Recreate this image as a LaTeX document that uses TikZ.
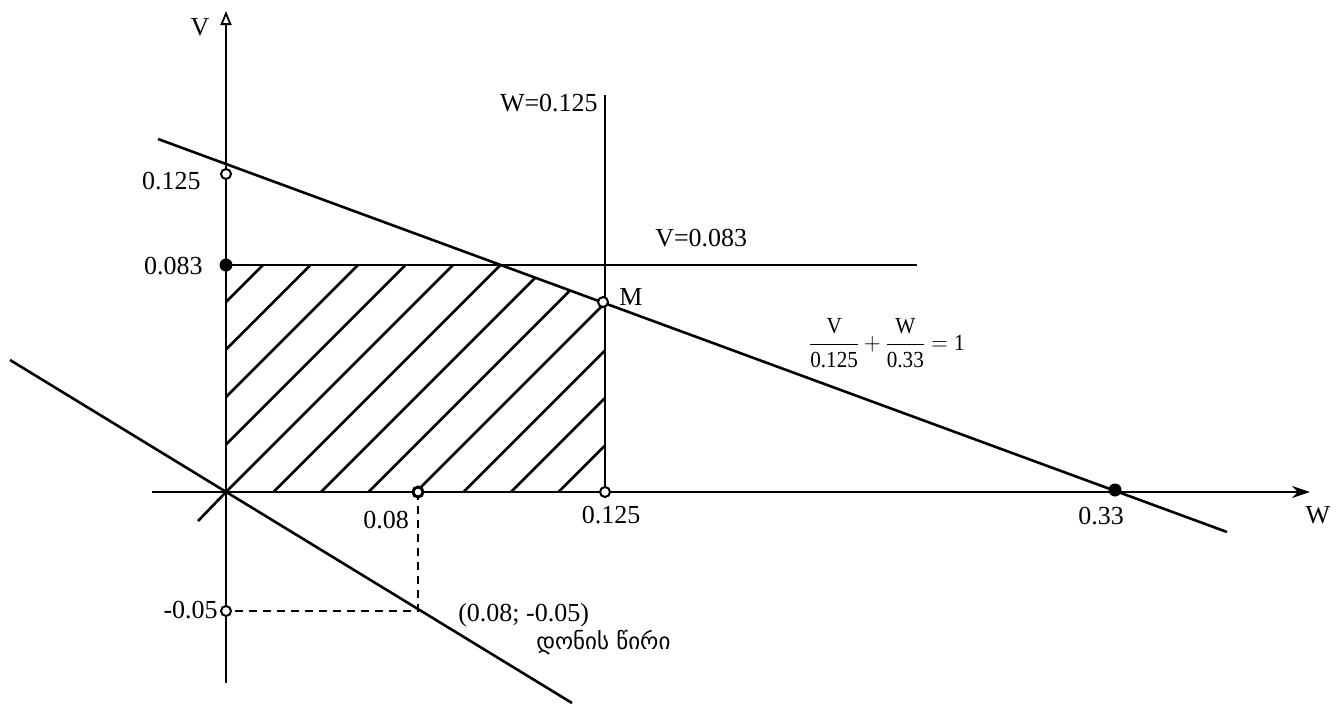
\documentclass[tikz,border=0pt]{standalone}
\usepackage{fontspec}
\setmainfont{Liberation Serif}
\newfontfamily\geofont{DejaVu Sans}
\usetikzlibrary{arrows.meta}
\begin{document}
\begin{tikzpicture}[x=1pt,y=-1pt, line width=2.6pt,
  lbl/.style={font=\fontsize{26}{29}\selectfont, inner sep=0pt},
  opendot/.style={circle,draw,fill=white,line width=2pt,minimum size=10pt,inner sep=0pt},
  filldot/.style={circle,fill=black,minimum size=13pt,inner sep=0pt},
  hatchline/.style={line width=2.5pt},
  dashline/.style={dash pattern=on 8pt off 6pt, line width=2.2pt}]
\useasboundingbox (0,0) rectangle (1341,705);
% key points
\coordinate (O) at (226,492);
\coordinate (vbot) at (226,683);
\coordinate (vtop) at (226,11);
\coordinate (wleft) at (152,492);
\coordinate (wright) at (1310,492);
\coordinate (bl1) at (158,139);
\coordinate (bl2) at (1227,532);
\coordinate (lv1) at (10,360);
\coordinate (lv2) at (572,703);
\coordinate (tA) at (226,265);
\coordinate (tB) at (501,265);
\coordinate (tM) at (605,303);
\coordinate (tC) at (605,492);
\coordinate (vline1) at (917,265);
\coordinate (wtop) at (605,95);
\coordinate (p08) at (418,492);
\coordinate (pq) at (418,611);
\coordinate (p05) at (226,611);
\coordinate (slash) at (198,521);
% hatching
\begin{scope}
\clip (tA) -- (tB) -- (tM) -- (tC) -- (O) -- cycle;
\foreach \k in {-6,...,8} \draw[hatchline] ({226+47.5*\k},492) -- ++(320,-320);
\end{scope}
% axes
\draw[line width=2.2pt, -{Triangle[open,length=14pt,width=11pt,line width=1.8pt]}] (vbot) -- (vtop);
\draw[line width=2.2pt, -{Stealth[length=18pt,width=12pt]}] (wleft) -- (wright);
% lines
\draw (bl1) -- (bl2);
\draw (lv1) -- (lv2);
\draw (tA) -- (vline1);
\draw (wtop) -- (tC);
\draw (slash) -- (O);
\draw[dashline] (p08) -- (pq) -- (p05);
% dots
\node[opendot] (d125) at (226,174) {};
\node[filldot] (d083) at (tA) {};
\node[opendot] (dM) at (603,302) {};
\node[opendot] (dW125) at (tC) {};
\node[opendot, line width=3pt] (d08) at (p08) {};
\node[filldot] (d33) at (1115,490) {};
\node[opendot] (dm05) at (p05) {};
% labels
\node[lbl] (lV) at (200,27) {V};
\node[lbl, anchor=east] (l125) at (202,181) {0.125};
\node[lbl, anchor=east] (l083) at (204,266) {0.083};
\node[lbl, anchor=east] (lW125) at (599,103) {W=0.125};
\node[lbl, anchor=west] (lV083) at (654,238) {V=0.083};
\node[lbl, anchor=west] (lM) at (618,297) {M};
\node[font=\fontsize{23}{26}\selectfont, inner sep=0pt, xscale=0.92] (frac) at (887,343)
  {$\displaystyle\frac{\hbox{V}}{\hbox{0.125}}+\frac{\hbox{W}}{\hbox{0.33}}=\hbox{1}$};
\node[lbl] (l08) at (386,520) {0.08};
\node[lbl] (l125b) at (611,515) {0.125};
\node[lbl] (l33) at (1101,516) {0.33};
\node[lbl] (lW) at (1318,515) {W};
\node[lbl, anchor=east] (lm05) at (219,610) {-0.05};
\node[lbl, anchor=west] (lpt) at (457,615) {(0.08; -0.05)};
\node[font=\geofont\fontsize{23}{26}\selectfont, inner sep=0pt, anchor=west] (lgeo) at (535,643) {დონის წირი};
\end{tikzpicture}
\end{document}
